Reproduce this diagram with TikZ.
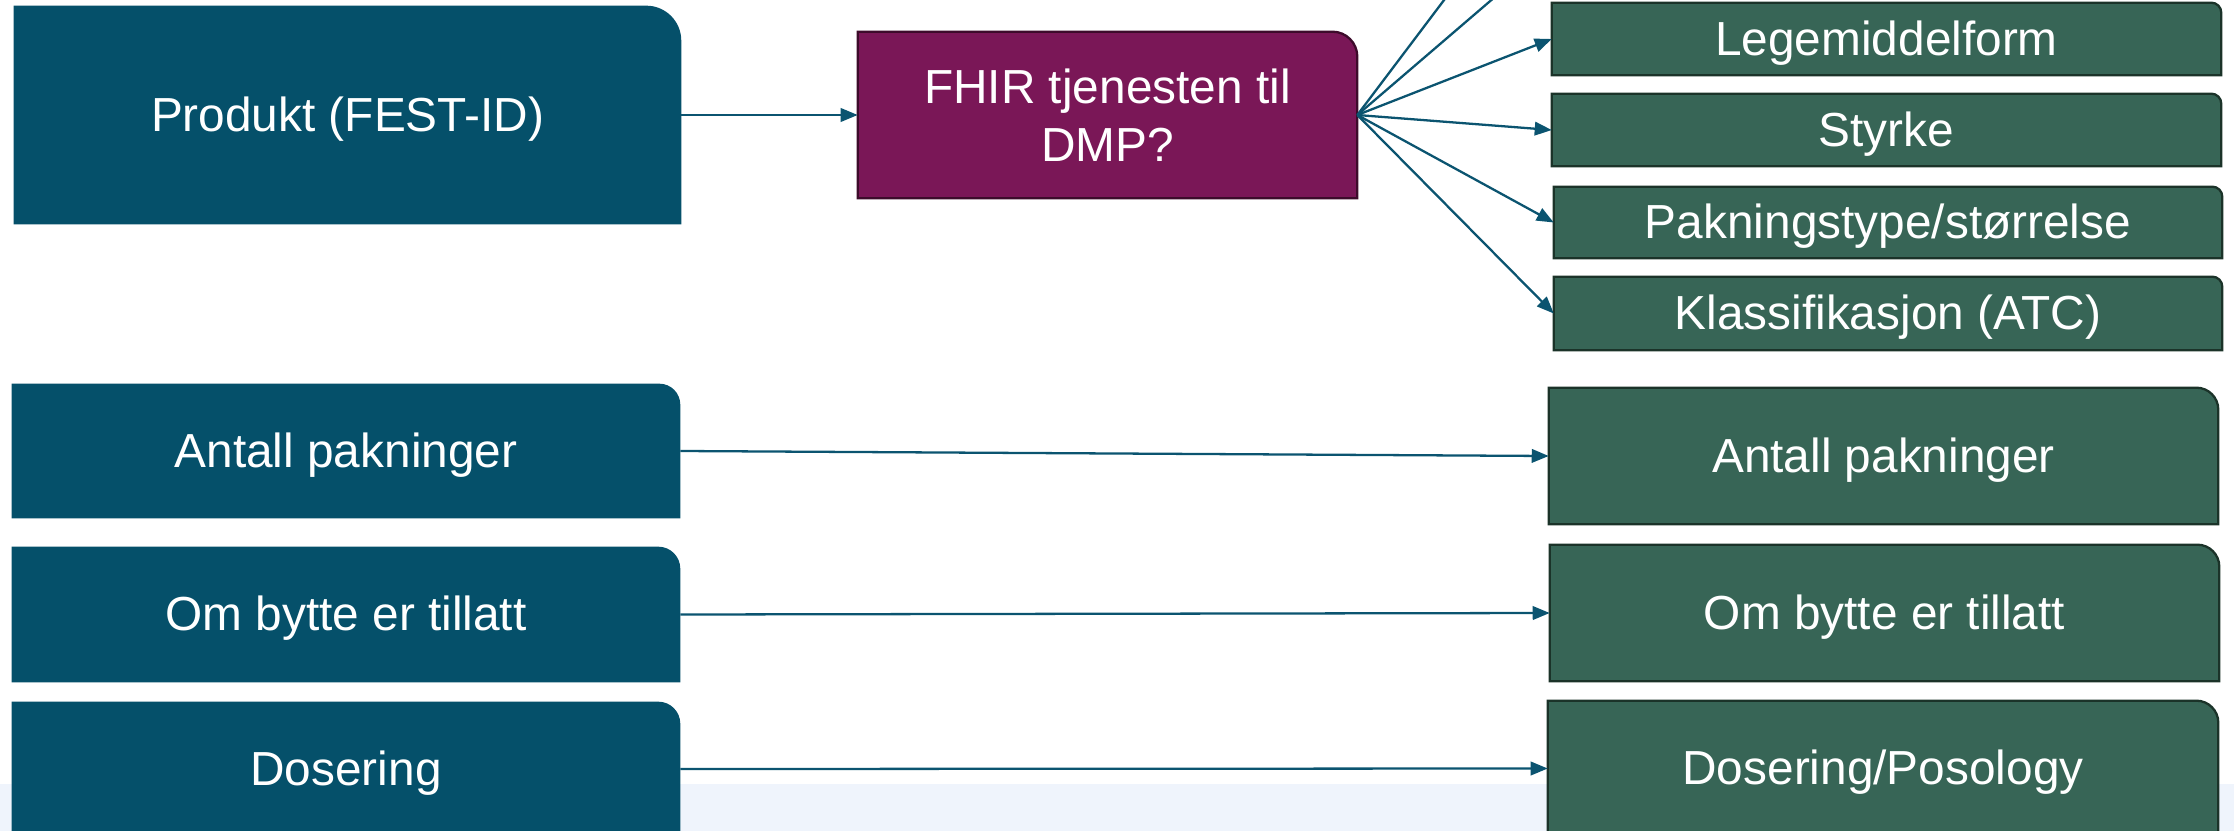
\documentclass[tikz,border=0pt]{standalone}
\usepackage{fontspec}
\setmainfont{Liberation Sans}
\usetikzlibrary{arrows.meta,backgrounds}
\definecolor{leftblue}{HTML}{05506A}
\definecolor{boxgreen}{HTML}{376556}
\definecolor{greenedge}{HTML}{1B3329}
\definecolor{fhirpurple}{HTML}{7A1757}
\definecolor{fhiredge}{HTML}{3D0B2B}
\definecolor{arrowblue}{HTML}{0B5470}
\definecolor{bandblue}{HTML}{EFF4FC}
% draws a box over the named node, with only its top right corner rounded
\newcommand\tabshape[3]{\path[#1] (#2.south west) -- (#2.north west) -- ([xshift=-#3]#2.north east) arc[start angle=90,end angle=0,radius=#3] -- (#2.south east) -- cycle;}
\tikzset{
  boxnode/.style={inner sep=0pt, text=white, align=center,
    font=\fontsize{27.2}{33}\selectfont},
  oneline/.style={boxnode, text height=21.8pt, text depth=3.4pt},
  leftfill/.style={fill=leftblue},
  greenfill/.style={fill=boxgreen, draw=greenedge, line width=1.3pt},
  purplefill/.style={fill=fhirpurple, draw=fhiredge, line width=1.3pt},
  conn/.style={draw=arrowblue, line width=1.3pt,
    -{Triangle[length=0.34cm,width=0.27cm]}},
}
\begin{document}
\begin{tikzpicture}[x=0.02cm,y=-0.02cm]
\useasboundingbox (0,0) rectangle (2234,831);
\clip (0,0) rectangle (2234,831);
% left column
\node[oneline, minimum width=13.34cm, minimum height=4.36cm] (prod) at (347.5,115) {Produkt (FEST-ID)};
\node[oneline, minimum width=13.36cm, minimum height=2.68cm] (antL) at (346,451) {Antall pakninger};
\node[oneline, minimum width=13.36cm, minimum height=2.70cm] (omL) at (346,614.5) {Om bytte er tillatt};
\node[oneline, minimum width=13.36cm, minimum height=2.68cm] (dosL) at (346,769) {Dosering};
% middle
\node[boxnode, minimum width=9.98cm, minimum height=3.32cm] (fhir) at (1107.5,115) {FHIR tjenesten til\\DMP?};
% right column
\node[oneline, minimum width=13.38cm, minimum height=1.44cm] (leg) at (1886.5,39) {Legemiddelform};
\node[oneline, minimum width=13.38cm, minimum height=1.44cm] (sty) at (1886.5,130) {Styrke};
\node[oneline, minimum width=13.36cm, minimum height=1.42cm] (pak) at (1888,222.5) {Pakningstype/størrelse};
\node[oneline, minimum width=13.36cm, minimum height=1.46cm] (kla) at (1888,313.5) {Klassifikasjon (ATC)};
\node[oneline, minimum width=13.38cm, minimum height=2.72cm] (antR) at (1883.5,456) {Antall pakninger};
\node[oneline, minimum width=13.38cm, minimum height=2.72cm] (omR) at (1884.5,613) {Om bytte er tillatt};
\node[oneline, minimum width=13.40cm, minimum height=2.70cm] (dosR) at (1883,768.5) {Dosering/Posology};
% connectors whose targets lie above the picture
\coordinate (offA) at (1552,-143);
\coordinate (offB) at (1552,-52);
\begin{pgfonlayer}{background}
  \fill[bandblue] (0,784) rectangle (2234,831);
  \tabshape{leftfill}{prod}{0.70cm}
  \tabshape{leftfill}{antL}{0.42cm}
  \tabshape{leftfill}{omL}{0.44cm}
  \tabshape{leftfill}{dosL}{0.44cm}
  \tabshape{purplefill}{fhir}{0.50cm}
  \tabshape{greenfill}{leg}{0.20cm}
  \tabshape{greenfill}{sty}{0.20cm}
  \tabshape{greenfill}{pak}{0.20cm}
  \tabshape{greenfill}{kla}{0.20cm}
  \tabshape{greenfill}{antR}{0.44cm}
  \tabshape{greenfill}{omR}{0.44cm}
  \tabshape{greenfill}{dosR}{0.44cm}
\end{pgfonlayer}
\draw[conn] (prod.east) -- (fhir.west);
\draw[conn] (fhir.east) -- (offA);
\draw[conn] (fhir.east) -- (offB);
\draw[conn] (fhir.east) -- (leg.west);
\draw[conn] (fhir.east) -- (sty.west);
\draw[conn] (fhir.east) -- (pak.west);
\draw[conn] (fhir.east) -- (kla.west);
\draw[conn] (antL.east) -- (antR.west);
\draw[conn] (omL.east) -- (omR.west);
\draw[conn] (dosL.east) -- (dosR.west);
\end{tikzpicture}
\end{document}
